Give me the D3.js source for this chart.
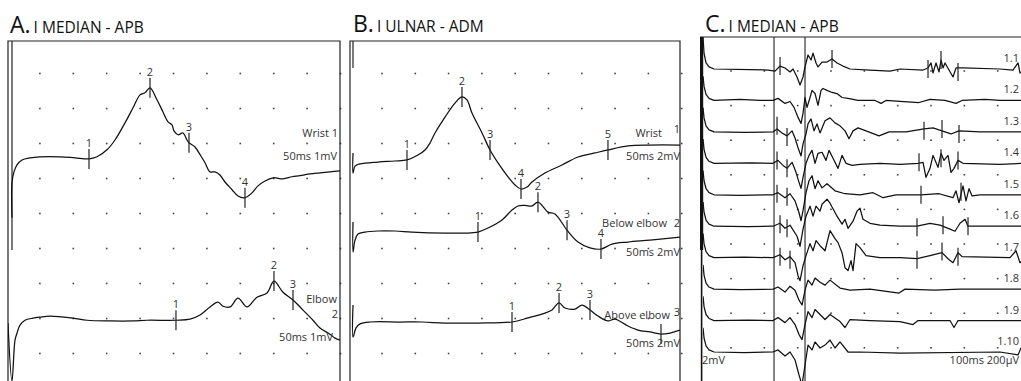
<!DOCTYPE html>
<html>
<head>
<meta charset="utf-8">
<script src="https://cdn.jsdelivr.net/npm/d3@7"></script>
<style>
  body { margin: 0; background: #fff; }
  svg { display: block; font-family: "Open Sans", sans-serif; }
  .trace { fill: none; stroke: #111; stroke-width: 1.25; stroke-linejoin: round; }
  .frame { stroke: #222; stroke-width: 1.2; fill: none; }
  .mk { stroke: #222; stroke-width: 1.2; }
  .lbl { font-size: 11px; fill: #333; }
</style>
</head>
<body>
<svg width="1021" height="381"></svg>
<script>
// ---- titles / settings text
const panelLetters = ["A.", "B.", "C."];
const panelNerves = ["I MEDIAN - APB", "I ULNAR - ADM", "I MEDIAN - APB"];
const settingsA = "50ms 1mV";
const settingsB = "50ms 2mV";
const settingsC = ["2mV", "100ms 200µV"];

// ---- A. median motor, [ms, mV]
const medianWrist = [[0.82,-1.71],[0.82,-0.71],[1.12,-0.4],[1.57,-0.2],[2.32,-0.06],[3.52,0],[5.0,0.03],[8.0,0.03],[10.25,0],
  [12.35,-0.03],[13.55,0.03],[15.04,0.23],[16.24,0.51],[17.74,1.0],[18.94,1.43],[19.99,1.8],[20.73,1.86],[21.48,2.0],
  [22.53,1.66],[23.43,1.31],[24.18,1.03],[24.78,0.94],[25.07,0.77],[25.67,0.66],[26.42,0.71],[27.02,0.51],[27.32,0.43],
  [28.22,0.31],[28.97,0.09],[29.72,-0.14],[30.46,-0.4],[31.21,-0.4],[31.96,-0.49],[32.71,-0.69],[33.76,-0.91],[34.66,-1.09],
  [35.7,-1.14],[36.75,-1.0],[37.65,-0.8],[38.7,-0.66],[39.9,-0.57],[41.39,-0.6],[42.74,-0.54],[43.94,-0.51],[45.43,-0.46],
  [46.93,-0.43],[48.43,-0.4],[49.93,-0.37]];
const medianWristMarks = [[12.35,-0.03],[21.48,2.0],[27.32,0.43],[35.7,-1.14]];
const medianElbow = [[0.22,-0.17],[0.82,-1.83],[1.27,-0.66],[1.57,-0.46],[2.02,-0.23],[2.77,-0.09],[3.97,-0.03],[5.0,0],[6.5,0.03],
  [9.96,-0.03],[12.05,-0.09],[15.49,-0.11],[18.94,-0.11],[21.03,-0.09],[25.37,-0.09],[27.47,-0.06],[28.97,0.06],[30.46,0.29],
  [31.66,0.43],[32.41,0.31],[33.46,0.29],[34.66,0.54],[36.0,0.29],[37.5,0.57],[39.0,0.69],[40.04,1.03],[41.39,0.71],
  [42.89,0.49],[44.39,0.2],[45.88,-0.09],[46.93,-0.31],[48.43,-0.49],[49.18,-0.6],[49.93,-0.66]];
const medianElbowMarks = [[25.37,-0.09],[40.04,1.03],[42.89,0.49]];

// ---- B. ulnar motor, [ms, mV]
const ulnarWrist = [[0.65,0.46],[0.65,-0.69],[0.95,-0.29],[1.7,-0.17],[4.4,-0.06],[6.95,0],[8.75,0.06],[10.4,0.34],[11.46,0.63],
  [12.21,1.03],[12.96,1.6],[14.46,2.51],[15.96,3.31],[17.01,3.66],[17.76,3.49],[18.51,2.74],[20.02,1.6],[21.22,0.63],
  [22.42,-0.11],[23.92,-0.91],[24.97,-1.37],[25.87,-1.6],[26.77,-1.49],[27.52,-1.2],[29.47,-0.69],[32.03,-0.23],
  [34.43,0.23],[36.98,0.46],[38.93,0.63],[41.93,0.86],[45.24,0.91],[49.74,0.91]];
const ulnarWristMarks = [[8.75,0.06],[17.01,3.66],[21.22,0.63],[25.87,-1.6],[38.93,0.63]];
const ulnarBelow = [[0.65,0.57],[0.65,-1.14],[0.95,-0.46],[1.4,-0.11],[2.45,0],[4.4,0.06],[6.95,0.06],[9.5,0],[14.46,-0.06],
  [17.46,-0.06],[19.41,0],[20.92,0.23],[23.02,0.69],[24.52,1.26],[25.42,1.49],[26.47,1.52],[27.52,1.49],[28.42,1.71],
  [29.92,1.14],[30.97,1.03],[32.78,0.11],[34.43,-0.57],[36.23,-0.91],[37.88,-0.97],[39.53,-0.69],[41.93,-0.57],
  [45.24,-0.46],[49.74,-0.29]];
const ulnarBelowMarks = [[19.41,0],[28.42,1.71],[32.78,0.11],[37.88,-0.97]];
const ulnarAbove = [[0.65,0.97],[0.65,-0.86],[1.1,-0.34],[1.7,-0.11],[3.2,0],[7.7,0],[11.01,0],[14.46,-0.06],[19.41,-0.06],
  [24.52,0],[26.92,0.23],[29.47,0.51],[30.53,0.69],[31.58,1.09],[32.48,0.8],[33.98,0.74],[35.03,0.97],[36.23,0.69],
  [37.43,0.34],[38.93,0.06],[39.98,0.17],[41.93,-0.23],[43.44,-0.46],[45.24,-0.57],[46.89,-0.69],[48.24,-0.63],[49.74,-0.46]];
const ulnarAboveMarks = [[24.52,0],[31.58,1.09],[36.23,0.69],[46.89,-0.69]];

// ---- C. F-wave series, [ms, µV]
const fNames = ["1.1","1.2","1.3","1.4","1.5","1.6","1.7","1.8","1.9","1.10"];
const cursorsC = [22.9, 32.2];
const f1 = [[1.6,185],[1.9,90],[2.5,35],[3.4,12],[4.9,0],[15.7,-3],[21.1,-6],[23.2,-12],[24.7,17],[26.2,6],[27.7,-17],[28.6,0],
  [29.8,-46],[30.7,-92],[31.6,-46],[32.2,12],[33.1,81],[34.0,52],[34.6,92],[35.5,35],[36.1,12],[37.3,40],[38.8,40],[40.3,58],
  [41.8,35],[43.6,17],[45.7,0],[51.7,-6],[57.7,-12],[60.7,0],[67.6,-6],[69.1,6],[70.0,35],[70.6,-23],[71.5,35],[72.4,-17],
  [73.0,52],[73.6,6],[74.2,35],[75.4,-6],[76.6,-46],[77.5,6],[79.6,6],[90.7,0],[94.6,-6],[96.1,35],[96.7,-23],[98.2,0]];
const f2 = [[1.6,140],[1.9,81],[2.5,35],[3.4,12],[4.9,0],[12.7,6],[18.7,0],[22.6,0],[24.1,12],[26.2,-17],[27.7,-6],[28.9,-40],
  [30.1,-98],[31.0,-133],[31.6,-75],[32.2,17],[32.8,-40],[33.7,17],[34.3,58],[35.2,40],[36.1,-29],[37.0,58],[37.6,69],
  [38.8,58],[40.3,46],[41.8,40],[43.3,17],[45.1,12],[48.1,0],[53.2,0],[55.0,-17],[56.5,0],[60.7,-6],[66.4,-12],[69.7,6],
  [74.2,0],[77.5,-17],[79.3,0],[86.2,6],[90.7,0],[98.2,0]];
const f3 = [[1.6,140],[1.9,81],[2.5,35],[3.4,12],[4.9,0],[14.0,-3],[22.6,0],[23.8,17],[25.3,-6],[26.8,-23],[28.3,6],[29.2,-35],
  [30.1,-92],[31.0,-139],[31.6,-69],[32.5,-12],[33.1,46],[34.0,75],[34.9,6],[35.8,46],[36.7,-6],[38.2,64],[39.7,81],
  [41.2,52],[42.7,35],[44.2,6],[45.4,-40],[46.6,6],[48.1,23],[50.5,6],[54.4,-23],[57.4,0],[62.5,0],[67.9,17],[70.6,23],
  [73.3,6],[76.0,-12],[78.4,6],[84.7,0],[98.2,0]];
const f4 = [[1.6,140],[1.9,81],[2.5,35],[3.4,12],[4.9,0],[16.0,3],[22.6,0],[24.1,17],[25.6,-12],[26.8,-29],[28.3,6],[29.5,-52],
  [30.4,-110],[31.0,-145],[31.6,-81],[32.5,0],[33.4,46],[34.3,75],[35.2,0],[36.1,58],[37.3,64],[38.5,17],[39.4,75],
  [40.6,29],[42.1,-29],[43.3,46],[44.5,0],[46.3,-12],[48.7,-6],[54.7,0],[60.7,-6],[66.1,0],[67.6,6],[68.5,-81],[69.7,-29],
  [70.6,46],[72.1,-23],[73.0,58],[73.9,17],[75.1,46],[76.0,-52],[76.9,-29],[78.1,17],[79.6,0],[90.7,-6],[98.2,0]];
const f5 = [[1.6,140],[1.9,81],[2.5,35],[3.4,12],[4.9,0],[13.0,-3],[22.6,0],[24.1,12],[26.2,-17],[27.7,6],[29.2,-35],[30.4,-104],
  [31.0,-150],[31.6,-92],[32.5,12],[33.4,81],[34.3,110],[35.2,35],[36.1,81],[37.3,40],[38.8,64],[41.2,23],[44.2,6],
  [48.7,0],[52.6,12],[55.6,-17],[59.5,0],[67.0,0],[72.4,6],[76.6,-17],[77.5,23],[78.4,-46],[79.6,52],[80.5,-35],
  [81.4,35],[82.3,-6],[84.7,0],[98.2,0]];
const f6 = [[1.6,140],[1.9,81],[2.5,35],[3.4,12],[4.9,0],[15.0,-3],[22.6,0],[24.7,17],[26.2,-12],[27.7,6],[29.8,-58],[30.7,-116],
  [31.6,-17],[32.5,58],[33.7,116],[34.6,58],[35.5,116],[36.7,87],[37.3,127],[38.8,156],[39.7,133],[41.8,58],[43.3,12],
  [44.2,40],[45.1,-12],[46.6,29],[47.8,87],[48.7,104],[49.6,40],[51.7,17],[54.7,6],[60.7,0],[65.8,0],[69.7,17],
  [72.7,6],[75.7,-17],[77.2,-29],[78.7,17],[80.2,40],[81.1,0],[87.7,0],[98.2,0]];
const f7 = [[1.6,140],[1.9,81],[2.5,35],[3.4,12],[4.9,0],[14.0,3],[22.6,0],[24.7,17],[26.2,-12],[27.7,6],[29.2,-29],[30.1,-104],
  [30.7,-133],[31.6,-46],[32.5,12],[33.7,81],[34.6,40],[35.5,98],[36.7,69],[38.2,40],[39.7,156],[41.2,110],[42.1,87],
  [43.3,29],[44.2,-58],[45.1,-75],[46.0,-17],[46.6,-75],[47.5,81],[48.7,58],[50.5,12],[54.7,0],[60.7,0],[65.8,-6],
  [69.7,12],[73.3,29],[75.1,-6],[76.6,-29],[78.1,29],[79.3,6],[93.7,0],[95.5,40],[96.7,-29],[98.2,-6]];
const f8 = [[1.6,140],[1.9,81],[2.5,35],[3.4,12],[4.9,0],[13.0,-3],[22.6,0],[24.1,12],[26.2,-17],[27.7,17],[29.2,-6],[30.4,-64],
  [31.3,-92],[32.2,-6],[33.1,52],[34.3,23],[35.2,64],[36.7,40],[38.2,23],[39.7,52],[42.7,6],[45.7,-6],[51.7,0],[60.4,-23],
  [62.2,0],[71.2,-6],[78.7,0],[98.2,0]];
const f9 = [[1.6,140],[1.9,81],[2.5,35],[3.4,12],[4.9,0],[15.0,3],[22.6,0],[24.1,17],[26.2,-12],[27.7,17],[29.2,-23],[30.4,-81],
  [31.3,-110],[32.2,-23],[33.1,52],[34.3,17],[35.2,64],[36.7,35],[38.2,6],[39.7,35],[42.7,-6],[44.2,-40],[45.7,6],[51.7,0],
  [60.7,-6],[64.6,-23],[66.1,0],[75.7,0],[76.9,-40],[78.1,0],[98.2,0]];
const f10 = [[1.6,140],[1.9,81],[2.5,35],[3.4,12],[4.9,0],[14.0,-3],[22.6,0],[24.1,12],[26.2,-23],[27.7,0],[29.2,-46],[30.4,-133],
  [31.3,-191],[32.2,-75],[33.1,40],[34.3,12],[35.2,58],[36.7,23],[38.2,40],[39.7,69],[41.2,23],[42.7,58],[45.1,0],[48.7,0],
  [60.7,-6],[90.7,0],[96.1,-17],[97.0,23],[98.2,0]];
const fWaves = [f1, f2, f3, f4, f5, f6, f7, f8, f9, f10];
// latency markers on each sweep [ms, µV]
const fTicks = [
  [[24.7,17],[40.3,58],[69.1,0],[73.0,52],[78.1,-17]],
  [],
  [[23.8,35],[26.8,-29],[67.9,6],[73.3,17],[78.4,-12]],
  [[23.8,17],[26.8,-29],[66.4,6],[73.0,29],[78.1,17]],
  [[23.8,6],[26.8,-12],[67.0,0],[79.0,17]],
  [[24.7,12],[26.8,-12],[65.8,-6],[73.6,6],[81.1,0]],
  [[24.7,6],[27.7,-12],[65.8,-12],[73.3,35],[78.1,6]],
  [], [], []
];

const svg = d3.select("svg");

// ---------- layout
const panels = [
  { x: d3.scaleLinear().domain([0, 50]).range([6.5, 340.5]), row: d3.scaleLinear().domain([0, 8]).range([73.5, 353.5]),
    frame: [8, 41, 340], inner: [12, 41, 250], titleX: 10, titleY: 33, cols: d3.range(5, 51, 5), curve: d3.curveCatmullRom.alpha(0.5),
    gain: 1,
    traces: [
      { data: medianWrist, marks: medianWristMarks, base: 2.41, names: ["1","2","3","4"],
        texts: [["Wrist 1", 338, -21], [settingsA, 337, 2]] },
      { data: medianElbow, marks: medianElbowMarks, base: 6.96, names: ["1","2","3"],
        texts: [["Elbow", 337, -14], ["2", 338, 1], [settingsA, 333, 24]] }
    ] },
  { x: d3.scaleLinear().domain([0, 50]).range([348.7, 681.7]), row: d3.scaleLinear().domain([0, 8]).range([73.5, 353.5]),
    frame: [350, 41, 680], inner: [353, 41, 68], titleX: 353, titleY: 32, cols: d3.range(5, 51, 5), curve: d3.curveCatmullRom.alpha(0.5),
    gain: 2,
    traces: [
      { data: ulnarWrist, marks: ulnarWristMarks, base: 2.5, names: ["1","2","3","4","5"],
        texts: [["Wrist", 662, -24], ["1", 680, -28], [settingsB, 680, -1]] },
      { data: ulnarBelow, marks: ulnarBelowMarks, base: 4.53, names: ["1","2","3","4"],
        texts: [["Below elbow", 667, -5], ["2", 680, -5], [settingsB, 680, 24]] },
      { data: ulnarAbove, marks: ulnarAboveMarks, base: 7.1, names: ["1","2","3",""],
        texts: [["Above elbow", 670, -3], ["3", 680, -6], [settingsB, 680, 25]] }
    ] }
];

// ---------- A and B
panels.forEach((p, i) => {
  const g = svg.append("g");
  const clipId = "clip" + i;
  svg.append("clipPath").attr("id", clipId).append("rect")
    .attr("x", p.frame[0]).attr("y", p.frame[1]).attr("width", p.frame[2] - p.frame[0]).attr("height", 381 - p.frame[1]);

  // grid dots
  d3.range(0, 9).forEach(r => {
    g.selectAll(null).data(p.cols).enter().append("rect")
      .attr("x", d => p.x(d) - 0.8).attr("y", p.row(r) - 0.8)
      .attr("width", 1.6).attr("height", 1.6).attr("fill", "#444");
  });

  // frame
  g.append("path").attr("class", "frame")
    .attr("d", `M${p.frame[0]},381V${p.frame[1]}H${p.frame[2]}V381`);
  g.append("line").attr("class", "frame")
    .attr("x1", p.inner[0]).attr("x2", p.inner[0]).attr("y1", p.inner[1]).attr("y2", p.inner[2]);

  // title
  const title = g.append("text").attr("x", p.titleX).attr("y", p.titleY).attr("fill", "#111");
  title.append("tspan").attr("font-size", 23).text(panelLetters[i]);
  title.append("tspan").attr("font-size", 15.5).attr("dx", 3).text(panelNerves[i]);

  p.traces.forEach(tr => {
    const y = v => p.row(tr.base - v / p.gain);
    const line = d3.line().x(d => p.x(d[0])).y(d => y(d[1])).curve(p.curve);
    g.append("path").datum(tr.data).attr("class", "trace")
      .attr("clip-path", `url(#${clipId})`).attr("d", line);

    g.selectAll(null).data(tr.marks).enter().append("line").attr("class", "mk")
      .attr("x1", d => p.x(d[0])).attr("x2", d => p.x(d[0]))
      .attr("y1", d => y(d[1]) - 10).attr("y2", d => y(d[1]) + 10);
    g.selectAll(null).data(tr.marks).enter().append("text").attr("class", "lbl")
      .attr("text-anchor", "middle")
      .attr("x", d => p.x(d[0])).attr("y", d => y(d[1]) - 12)
      .text((d, k) => tr.names[k]);

    const by = p.row(tr.base);
    tr.texts.forEach(t => {
      g.append("text").attr("class", "lbl").attr("text-anchor", "end")
        .attr("x", t[1]).attr("y", by + t[2]).text(t[0]);
    });
  });
});

// ---------- C
const xC = d3.scaleLinear().domain([0, 100]).range([697.7, 1031]);
const rowC = d3.scaleLinear().domain([0, 8]).range([71, 347.8]);
const baseC = d3.scalePoint().domain(fNames).range([rowC.invert(69), rowC.invert(352)]);
const uvPerDiv = 200;
const gC = svg.append("g");
svg.append("clipPath").attr("id", "clipC").append("rect")
  .attr("x", 703).attr("y", 37).attr("width", 330).attr("height", 344);

d3.range(0, 9).forEach(r => {
  gC.selectAll(null).data(d3.range(10, 100, 10)).enter().append("rect")
    .attr("x", d => xC(d) - 0.8).attr("y", rowC(r) - 0.8)
    .attr("width", 1.6).attr("height", 1.6).attr("fill", "#444");
});

gC.append("line").attr("class", "frame").attr("x1", 700).attr("x2", 1021).attr("y1", 37).attr("y2", 37);
gC.append("line").attr("stroke", "#111").attr("stroke-width", 3.2)
  .attr("x1", 701.6).attr("x2", 701.6).attr("y1", 37).attr("y2", 250);
gC.append("line").attr("stroke", "#111").attr("stroke-width", 1.6)
  .attr("x1", 701.6).attr("x2", 701.6).attr("y1", 250).attr("y2", 381);

gC.selectAll(null).data(cursorsC).enter().append("line")
  .attr("stroke", "#222").attr("stroke-width", 1.1)
  .attr("x1", d => xC(d)).attr("x2", d => xC(d)).attr("y1", 37).attr("y2", 381);

const titleC = gC.append("text").attr("x", 705).attr("y", 32).attr("fill", "#111");
titleC.append("tspan").attr("font-size", 23).text(panelLetters[2]);
titleC.append("tspan").attr("font-size", 15.5).attr("dx", 3).text(panelNerves[2]);

fWaves.forEach((wave, i) => {
  const b = baseC(fNames[i]);
  const y = v => rowC(b - v / uvPerDiv);
  const line = d3.line().x(d => xC(d[0])).y(d => y(d[1]));
  gC.append("path").datum(wave).attr("class", "trace").attr("stroke-width", 1.15)
    .attr("clip-path", "url(#clipC)").attr("d", line);
  gC.selectAll(null).data(fTicks[i]).enter().append("line").attr("class", "mk")
    .attr("x1", d => xC(d[0])).attr("x2", d => xC(d[0]))
    .attr("y1", d => y(d[1]) - 9).attr("y2", d => y(d[1]) + 9);
  gC.append("text").attr("class", "lbl").attr("text-anchor", "end")
    .attr("x", 1019).attr("y", rowC(b) - 7).text(fNames[i]);
});

gC.append("text").attr("class", "lbl").attr("x", 702).attr("y", 364).text(settingsC[0]);
gC.append("text").attr("class", "lbl").attr("text-anchor", "end").attr("x", 1019).attr("y", 364).text(settingsC[1]);
</script>
</body>
</html>
